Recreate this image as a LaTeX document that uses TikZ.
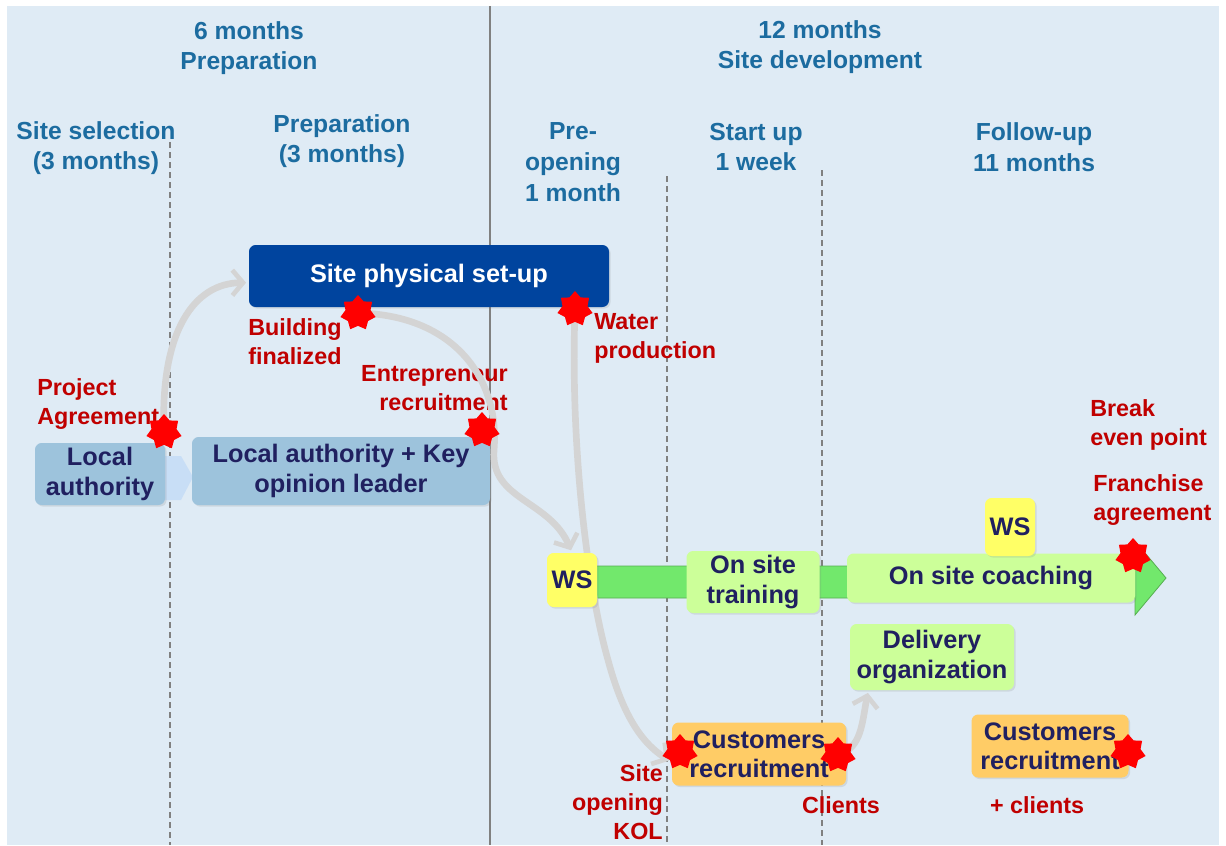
\documentclass[tikz,border=0pt]{standalone}
\usepackage{fontspec}
\setmainfont{Liberation Sans}
\usepackage{xcolor}
\usepackage{tikz}
\usetikzlibrary{shapes.geometric}
\usetikzlibrary{arrows.meta}
\usetikzlibrary{shadows}

\definecolor{bgblue}{RGB}{223,235,245}
\definecolor{hdrblue}{RGB}{28,108,160}
\definecolor{navytext}{RGB}{32,32,96}
\definecolor{milered}{RGB}{192,0,0}
\definecolor{lablue}{RGB}{157,195,220}
\definecolor{chevronblue}{RGB}{200,222,246}
\definecolor{setupblue}{RGB}{0,68,158}
\definecolor{palegreen}{RGB}{204,255,153}
\definecolor{arrowgreen}{RGB}{114,232,108}
\definecolor{wsyellow}{RGB}{255,255,102}
\definecolor{custorange}{RGB}{255,204,102}
\definecolor{curvegray}{RGB}{212,212,212}
\definecolor{linegray}{RGB}{128,128,128}

\newcommand{\hdrfont}{\bfseries\fontsize{18.5}{23}\selectfont}
\newcommand{\boxfont}{\bfseries\fontsize{19}{22}\selectfont}
\newcommand{\lblfont}{\bfseries\fontsize{17.5}{21.8}\selectfont}

\pgfdeclarelayer{front}
\pgfsetlayers{main,front}

\tikzset{
  hdr/.style={align=center, text=hdrblue, font=\hdrfont, inner sep=0pt},
  phasebox/.style={rounded corners=5pt, inner sep=0pt, align=center, font=\boxfont, text=navytext,
    drop shadow={opacity=0.18, shadow xshift=1.2pt, shadow yshift=-1.2pt}},
  milelbl/.style={text=milered, font=\lblfont, inner sep=0pt},
  redstar/.style={star, star points=7, star point ratio=1.4, fill=red, minimum size=27pt, inner sep=0pt},
  flow/.style={draw=curvegray, line width=5pt, shorten >=2pt,
    -{Straight Barb[length=8pt,width=19pt,line width=3.5pt]}},
  phaseline/.style={draw=linegray, line width=0.8pt, dash pattern=on 4.5pt off 3pt}
}

\begin{document}
\begin{tikzpicture}[x=0.75pt,y=0.75pt,yscale=-1,xscale=1]
  \useasboundingbox (0,0) rectangle (1226,845);
  \fill[white] (0,0) rectangle (1226,845);
  \fill[bgblue] (7,6) rectangle (1219,845);

  %Straight Lines
  \draw[linegray, line width=0.9pt] (490,6) -- (490,845);
  \draw[phaseline] (170,142) -- (170,845);
  \draw[phaseline] (667,176) -- (667,845);
  \draw[phaseline] (822,170) -- (822,845);

  % Text Node
  \node[hdr] (hdrPrep) at (249,48) {6 months\\Preparation};
  % Text Node
  \node[hdr] (hdrDev) at (820,47) {12 months\\Site development};
  % Text Node
  \node[hdr] (hdrSel) at (96,148) {Site selection\\(3 months)};
  % Text Node
  \node[hdr] (hdrPrepThree) at (342,141) {Preparation\\(3 months)};
  % Text Node
  \node[hdr] (hdrPre) at (573,162) {Pre-\\opening\\1 month};
  % Text Node
  \node[hdr] (hdrStart) at (756,147) {Start up\\1 week};
  % Text Node
  \node[hdr] (hdrFollow) at (1034,147) {Follow-up\\11 months};

  %Shape: chevron between local authority boxes
  \fill[chevronblue] (158,456) -- (181,456) -- (193,477) -- (181,500) -- (158,500) -- cycle;

  % Box Nodes
  \node[phasebox, fill=lablue, minimum width=97.5pt, minimum height=46.5pt] (locA) at (100,474) {Local\\authority};
  \node[phasebox, fill=lablue, minimum width=223.5pt, minimum height=51pt] (locKey) at (341,471) {Local authority + Key\\opinion leader};
  \node[phasebox, fill=setupblue, text=white, minimum width=270pt, minimum height=46.5pt] (siteSetup) at (429,276) {Site physical set-up};

  %Shape: green timeline arrow
  \filldraw[fill=arrowgreen, draw=arrowgreen!75!black, line width=0.6pt]
    (572,566) -- (1135,566) -- (1135,541) -- (1166,578) -- (1135,615) -- (1135,598) -- (572,598) -- cycle;

  \node[phasebox, fill=palegreen, minimum width=99.75pt, minimum height=46.5pt] (training) at (753,582) {On site\\training};
  \node[phasebox, fill=palegreen, minimum width=216pt, minimum height=36.75pt] (coaching) at (991,578) {On site coaching};
  \node[phasebox, fill=wsyellow, minimum width=37.5pt, minimum height=43.5pt] (wsTwo) at (1010,527) {WS};
  \node[phasebox, fill=palegreen, minimum width=123pt, minimum height=49.5pt] (delivery) at (932,657) {Delivery\\organization};
  \node[phasebox, fill=custorange, minimum width=130.5pt, minimum height=47.25pt] (custOne) at (759,754) {Customers\\recruitment};
  \node[phasebox, fill=custorange, minimum width=117.75pt, minimum height=47.25pt] (custTwo) at (1050,746) {Customers\\recruitment};

  % Milestone labels
  \node[milelbl, anchor=west, align=left] (lblAgree) at (37,404) {Project\\Agreement};
  \node[milelbl, anchor=west, align=left] (lblBuild) at (248,342) {Building\\finalized};
  \node[milelbl, anchor=east, align=right] (lblEntre) at (508,388) {Entrepreneur\\recruitment};
  \node[milelbl, anchor=west, align=left] (lblWater) at (594,338) {Water\\production};
  \node[milelbl, anchor=west, align=left] (lblBreak) at (1090,425) {Break\\even point};
  \node[milelbl, anchor=west, align=left] (lblFranch) at (1093,500) {Franchise\\agreement};
  \node[milelbl, anchor=east, align=right] (lblKOL) at (663,802) {Site\\opening\\KOL};
  \node[milelbl] (lblClients) at (841,805) {Clients};
  \node[milelbl] (lblPlus) at (1037,805) {+ clients};

  % WS box and milestone stars on top
  \begin{pgfonlayer}{front}
    \node[phasebox, fill=wsyellow, minimum width=37.5pt, minimum height=40.5pt] (wsOne) at (572,580) {WS};
    \node[redstar] (sAgree) at (164,432) {};
    \node[redstar] (sBuild) at (358,313) {};
    \node[redstar] (sEntre) at (482,430) {};
    \node[redstar] (sWater) at (575,309) {};
    \node[redstar] (sKOL) at (680,752) {};
    \node[redstar] (sClients) at (838,755) {};
    \node[redstar] (sPlus) at (1128,752) {};
    \node[redstar] (sFranch) at (1133,556) {};
  \end{pgfonlayer}

  %Curved Lines
  \draw[flow] (sAgree.center) .. controls (160,330) and (195,283) .. ([yshift=5pt]siteSetup.west);
  \draw[flow] (sBuild.center) .. controls (455,315) and (500,380) .. (494,450)
    .. controls (490,500) and (550,500) .. (wsOne.north);
  \draw[flow] (sWater.center) .. controls (570,450) and (588,590) .. (608,660)
    .. controls (622,712) and (640,742) .. ([yshift=6pt]custOne.west);
  \draw[flow] (sClients.center) .. controls (862,748) and (862,722) .. ([xshift=14pt]delivery.south west);
\end{tikzpicture}
\end{document}
